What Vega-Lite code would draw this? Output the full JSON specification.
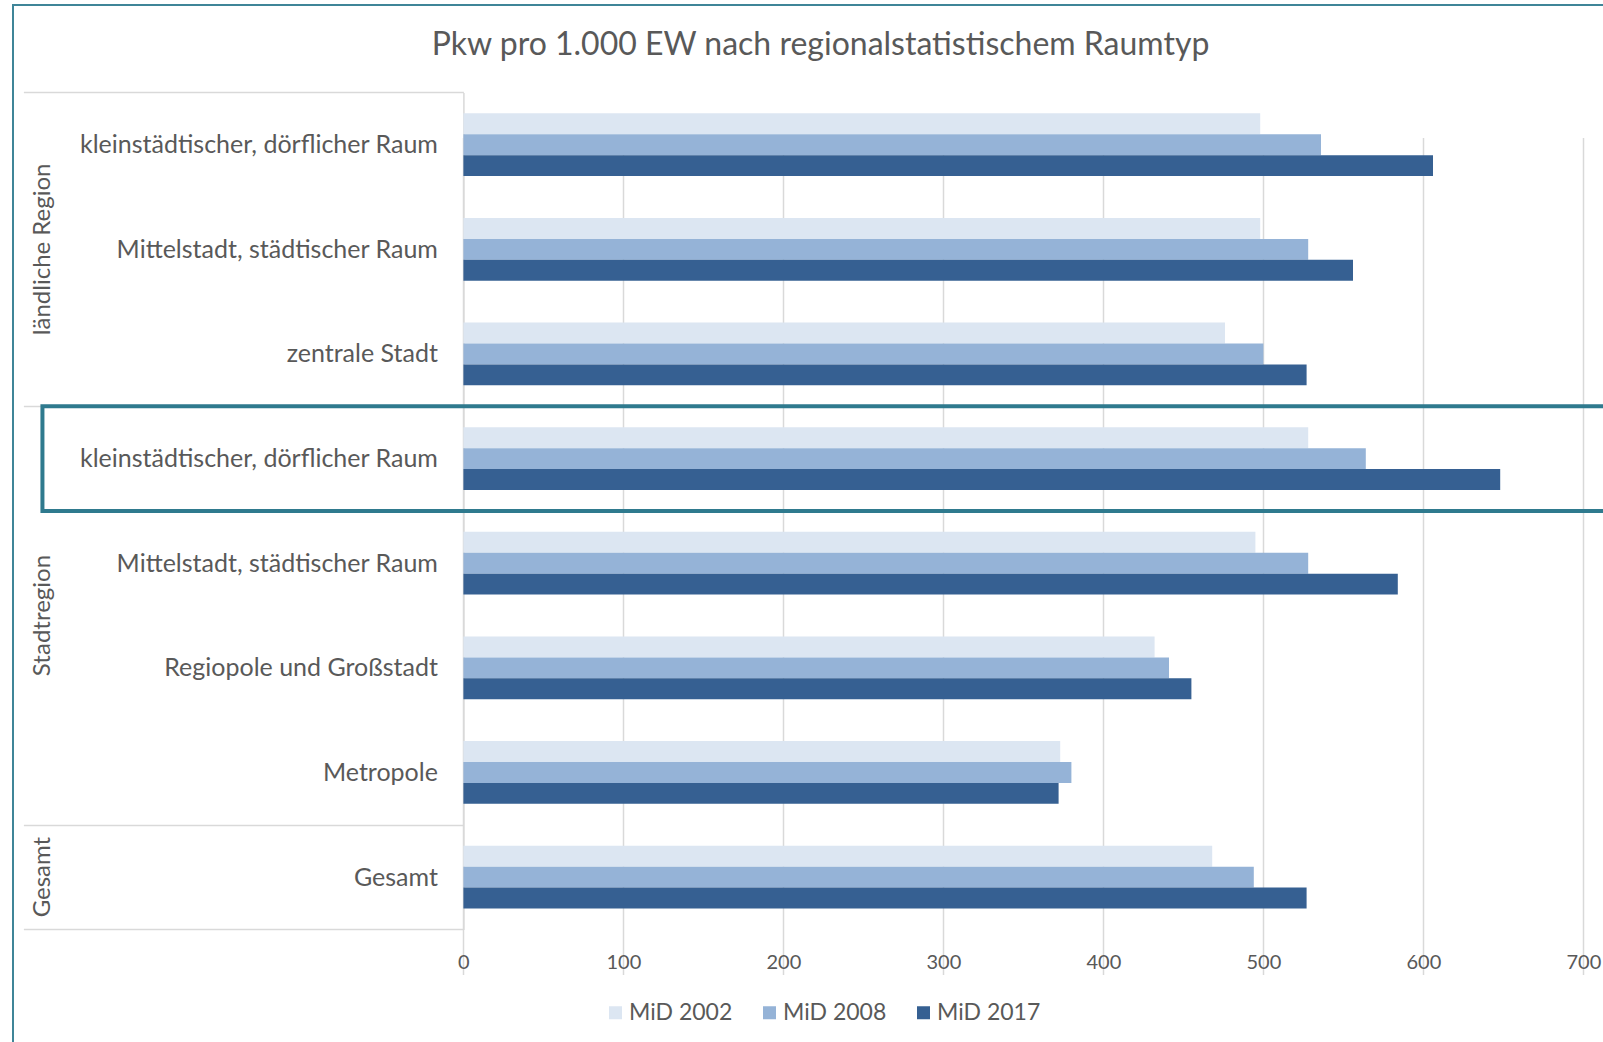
{
  "$schema": "https://vega.github.io/schema/vega-lite/v6.json",
  "width": 1607,
  "height": 1057,
  "autosize": {"type": "none"},
  "padding": {"left": 13, "top": 5, "right": -17, "bottom": -20},
  "background": "#ffffff",
  "title": {
    "text": "Pkw pro 1.000 EW nach regionalstatistischem Raumtyp",
    "anchor": "middle",
    "frame": "group",
    "orient": "top",
    "baseline": "middle",
    "offset": -84,
    "dx": 4,
    "font": "Lato",
    "fontSize": 32,
    "fontWeight": "normal",
    "color": "#595959"
  },
  "config": {
    "font": "Lato",
    "view": {"stroke": "#3f8598", "strokeWidth": 2},
    "legend": {
      "orient": "none",
      "legendX": 591,
      "legendY": 996,
      "direction": "horizontal",
      "padding": 0,
      "symbolType": "square",
      "symbolSize": 169,
      "symbolStrokeWidth": 0,
      "labelFont": "Lato",
      "labelFontSize": 23,
      "labelColor": "#595959",
      "labelOffset": 2,
      "columnPadding": 25
    }
  },
  "data": {
    "values": [
      {"kategorie": "ländliche Region|kleinstädtischer, dörflicher Raum", "serie": "MiD 2002", "pkw": 498},
      {"kategorie": "ländliche Region|kleinstädtischer, dörflicher Raum", "serie": "MiD 2008", "pkw": 536},
      {"kategorie": "ländliche Region|kleinstädtischer, dörflicher Raum", "serie": "MiD 2017", "pkw": 606},
      {"kategorie": "ländliche Region|Mittelstadt, städtischer Raum", "serie": "MiD 2002", "pkw": 498},
      {"kategorie": "ländliche Region|Mittelstadt, städtischer Raum", "serie": "MiD 2008", "pkw": 528},
      {"kategorie": "ländliche Region|Mittelstadt, städtischer Raum", "serie": "MiD 2017", "pkw": 556},
      {"kategorie": "ländliche Region|zentrale Stadt", "serie": "MiD 2002", "pkw": 476},
      {"kategorie": "ländliche Region|zentrale Stadt", "serie": "MiD 2008", "pkw": 500},
      {"kategorie": "ländliche Region|zentrale Stadt", "serie": "MiD 2017", "pkw": 527},
      {"kategorie": "Stadtregion|kleinstädtischer, dörflicher Raum", "serie": "MiD 2002", "pkw": 528},
      {"kategorie": "Stadtregion|kleinstädtischer, dörflicher Raum", "serie": "MiD 2008", "pkw": 564},
      {"kategorie": "Stadtregion|kleinstädtischer, dörflicher Raum", "serie": "MiD 2017", "pkw": 648},
      {"kategorie": "Stadtregion|Mittelstadt, städtischer Raum", "serie": "MiD 2002", "pkw": 495},
      {"kategorie": "Stadtregion|Mittelstadt, städtischer Raum", "serie": "MiD 2008", "pkw": 528},
      {"kategorie": "Stadtregion|Mittelstadt, städtischer Raum", "serie": "MiD 2017", "pkw": 584},
      {"kategorie": "Stadtregion|Regiopole und Großstadt", "serie": "MiD 2002", "pkw": 432},
      {"kategorie": "Stadtregion|Regiopole und Großstadt", "serie": "MiD 2008", "pkw": 441},
      {"kategorie": "Stadtregion|Regiopole und Großstadt", "serie": "MiD 2017", "pkw": 455},
      {"kategorie": "Stadtregion|Metropole", "serie": "MiD 2002", "pkw": 373},
      {"kategorie": "Stadtregion|Metropole", "serie": "MiD 2008", "pkw": 380},
      {"kategorie": "Stadtregion|Metropole", "serie": "MiD 2017", "pkw": 372},
      {"kategorie": "Gesamt|Gesamt", "serie": "MiD 2002", "pkw": 468},
      {"kategorie": "Gesamt|Gesamt", "serie": "MiD 2008", "pkw": 494},
      {"kategorie": "Gesamt|Gesamt", "serie": "MiD 2017", "pkw": 527}
    ]
  },
  "layer": [
    {
      "mark": {"type": "bar"},
      "encoding": {
        "y": {
          "field": "kategorie",
          "type": "nominal",
          "sort": null,
          "scale": {
            "domain": [
              "ländliche Region|kleinstädtischer, dörflicher Raum",
              "ländliche Region|Mittelstadt, städtischer Raum",
              "ländliche Region|zentrale Stadt",
              "Stadtregion|kleinstädtischer, dörflicher Raum",
              "Stadtregion|Mittelstadt, städtischer Raum",
              "Stadtregion|Regiopole und Großstadt",
              "Stadtregion|Metropole",
              "Gesamt|Gesamt"
            ],
            "range": [87.4, 924.4],
            "paddingInner": 0,
            "paddingOuter": 0
          },
          "axis": {
            "orient": "left",
            "offset": -450.4,
            "title": null,
            "grid": false,
            "domain": true,
            "domainColor": "#d9d9d9",
            "domainWidth": 1.5,
            "ticks": true,
            "tickBand": "extent",
            "tickColor": "#d9d9d9",
            "tickWidth": 1.5,
            "tickSize": 440,
            "tickOpacity": {
              "condition": {
                "test": "datum.extra || datum.value === 'ländliche Region|zentrale Stadt' || datum.value === 'Stadtregion|Metropole' || datum.value === 'Gesamt|Gesamt'",
                "value": 1
              },
              "value": 0
            },
            "labelPadding": -414,
            "labelExpr": "split(datum.value, '|')[1]",
            "labelOverlap": false,
            "labelLimit": 0,
            "labelFont": "Lato",
            "labelFontSize": 25,
            "labelColor": "#595959"
          }
        },
        "yOffset": {
          "field": "serie",
          "type": "nominal",
          "sort": ["MiD 2002", "MiD 2008", "MiD 2017"],
          "scale": {"paddingInner": 0, "paddingOuter": 1}
        },
        "x": {
          "field": "pkw",
          "type": "quantitative",
          "scale": {"domain": [0, 700], "range": [450.4, 1570.4], "nice": false, "zero": true},
          "axis": {
            "orient": "bottom",
            "offset": -132.6,
            "title": null,
            "values": [0, 100, 200, 300, 400, 500, 600, 700],
            "grid": true,
            "gridColor": "#d9d9d9",
            "gridWidth": 1.5,
            "domain": false,
            "ticks": false,
            "labelFlush": false,
            "labelBaseline": "middle",
            "labelPadding": 33,
            "labelFont": "Lato",
            "labelFontSize": 20,
            "labelColor": "#595959"
          }
        },
        "color": {
          "field": "serie",
          "type": "nominal",
          "scale": {
            "domain": ["MiD 2002", "MiD 2008", "MiD 2017"],
            "range": ["#dce6f2", "#95b3d7", "#366092"]
          },
          "legend": {"title": null}
        }
      }
    },
    {
      "data": {"values": [{"kategorie": "Stadtregion|kleinstädtischer, dörflicher Raum"}]},
      "mark": {"type": "rect", "fill": "#ffffff", "fillOpacity": 0, "stroke": "#2f7a8e", "strokeWidth": 4},
      "encoding": {
        "y": {"field": "kategorie", "type": "nominal", "sort": null, "axis": null},
        "x": {"datum": -263.1, "type": "quantitative", "axis": null},
        "x2": {"datum": 720}
      }
    },
    {
      "data": {
        "values": [
          {"gruppe": "ländliche Region", "kategorie": "ländliche Region|Mittelstadt, städtischer Raum"},
          {"gruppe": "Gesamt", "kategorie": "Gesamt|Gesamt"}
        ]
      },
      "mark": {"type": "text", "angle": 270, "align": "center", "baseline": "middle", "font": "Lato", "fontSize": 24, "color": "#595959"},
      "encoding": {
        "y": {"field": "kategorie", "type": "nominal", "sort": null, "axis": null},
        "x": {"datum": -262.5, "type": "quantitative", "axis": null},
        "text": {"field": "gruppe"}
      }
    },
    {
      "data": {
        "values": [
          {"gruppe": "Stadtregion", "kategorie": "Stadtregion|Mittelstadt, städtischer Raum"}
        ]
      },
      "mark": {"type": "text", "angle": 270, "align": "center", "baseline": "middle", "font": "Lato", "fontSize": 24, "color": "#595959"},
      "encoding": {
        "y": {"field": "kategorie", "type": "nominal", "sort": null, "bandPosition": 1, "axis": null},
        "x": {"datum": -262.5, "type": "quantitative", "axis": null},
        "text": {"field": "gruppe"}
      }
    }
  ],
  "resolve": {"axis": {"x": "independent", "y": "independent"}}
}
